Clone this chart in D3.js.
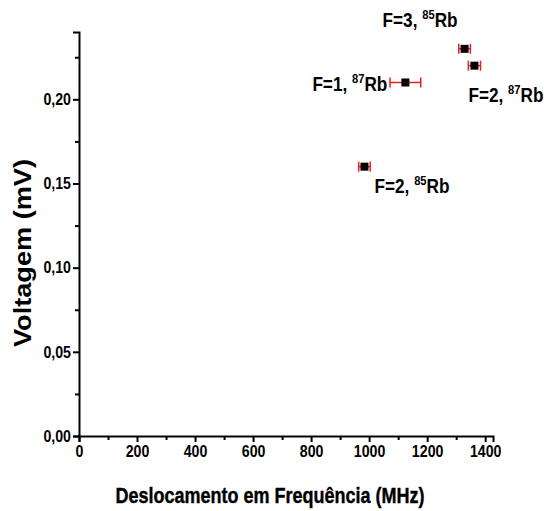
<!DOCTYPE html>
<html>
<head>
<meta charset="utf-8">
<script src="https://cdn.jsdelivr.net/npm/d3@7"></script>
<style>
  body { margin: 0; background: #fff; }
  svg { display: block; font-family: "Liberation Sans", Arial, sans-serif; font-weight: bold; }
</style>
</head>
<body>
<div id="chart-wrapper"></div>
<script>
// values
const labels = ["F=3", "F=1", "F=2", "F=2"];
const isotopes = ["85", "87", "87", "85"];
const shifts = [1329, 1125, 1363, 984];     // MHz
const shiftErr = [20, 53, 21, 20];           // MHz
const voltages = [0.23, 0.21, 0.22, 0.16];  // mV
const xTicks = [0, 200, 400, 600, 800, 1000, 1200, 1400];
const yTicks = [0, 0.05, 0.10, 0.15, 0.20];

// label placement relative to each point (pixels)
const labelOffsets = [
  {dx: -82, dy: -22, anchor: "start"},
  {dx: -18, dy: 8, anchor: "end"},
  {dx: -6, dy: 36, anchor: "start"},
  {dx: 10, dy: 26, anchor: "start"}
];

const width = 544, height = 511;
const margin = {left: 79, top: 32, right: 51, bottom: 75};
const squeeze = 0.86; // the original lettering is horizontally condensed

const svg = d3.select("#chart-wrapper")
  .append("svg")
  .attr("width", width)
  .attr("height", height);

const x = d3.scaleLinear()
  .domain([0, 1427])
  .range([margin.left, width - margin.right]);

const y = d3.scaleLinear()
  .domain([0, 0.24])
  .range([height - margin.bottom, margin.top]);

// x axis
const xAxis = svg.append("g")
  .attr("transform", `translate(0,${y(0)})`)
  .call(d3.axisBottom(x).tickValues(xTicks).tickSize(6).tickPadding(3).tickFormat(d3.format("d")));
xAxis.append("g")
  .call(d3.axisBottom(x).tickValues(d3.range(100, 1400, 200)).tickSize(4).tickFormat(""))
  .select(".domain").remove();
xAxis.selectAll(".tick text").attr("transform", `scale(${squeeze},1)`);

// y axis
const fmtY = d => d3.format(".2f")(d).replace(".", ",");
const yAxis = svg.append("g")
  .attr("transform", `translate(${x(0)},0)`)
  .call(d3.axisLeft(y).tickValues(yTicks).tickSize(6).tickPadding(3).tickFormat(fmtY));
yAxis.append("g")
  .call(d3.axisLeft(y).tickValues([0.025, 0.075, 0.125, 0.175, 0.225]).tickSize(4).tickFormat(""))
  .select(".domain").remove();
yAxis.selectAll(".tick text")
  .attr("x", 0)
  .attr("transform", `translate(-8,0) scale(${squeeze},1)`);

svg.selectAll(".domain").attr("stroke", "#000").attr("stroke-width", 2);
svg.selectAll(".tick line").attr("stroke", "#000").attr("stroke-width", 2);
svg.selectAll(".tick text")
  .attr("fill", "#000")
  .style("font-size", "16.5px")
  .style("font-weight", "bold")
  .style("font-family", "'Liberation Sans', Arial, sans-serif");

// axis titles
svg.append("text")
  .attr("x", 270)
  .attr("y", 503)
  .attr("text-anchor", "middle")
  .attr("textLength", 309)
  .attr("lengthAdjust", "spacingAndGlyphs")
  .attr("stroke", "#000")
  .attr("stroke-width", 0.4)
  .style("font-size", "22px")
  .text("Deslocamento em Frequência (MHz)");

svg.append("text")
  .attr("transform", `translate(31,253) rotate(-90)`)
  .attr("text-anchor", "middle")
  .attr("textLength", 188)
  .attr("lengthAdjust", "spacingAndGlyphs")
  .style("font-size", "23px")
  .text("Voltagem (mV)");

// error bars
const idx = d3.range(shifts.length);
const bars = svg.append("g").attr("stroke", "#e8201c").attr("stroke-width", 1.5);
idx.forEach(i => {
  const cy = y(voltages[i]);
  const x0 = x(shifts[i] - shiftErr[i]), x1 = x(shifts[i] + shiftErr[i]);
  bars.append("line").attr("x1", x0).attr("x2", x1).attr("y1", cy).attr("y2", cy);
  bars.append("line").attr("x1", x0).attr("x2", x0).attr("y1", cy - 5).attr("y2", cy + 5);
  bars.append("line").attr("x1", x1).attr("x2", x1).attr("y1", cy - 5).attr("y2", cy + 5);
});

// points
svg.append("g")
  .selectAll("rect")
  .data(idx)
  .join("rect")
  .attr("x", i => x(shifts[i]) - 4)
  .attr("y", i => y(voltages[i]) - 4)
  .attr("width", 8)
  .attr("height", 8)
  .attr("fill", "#000");

// point labels
const lab = svg.append("g")
  .selectAll("text")
  .data(idx)
  .join("text")
  .attr("transform", i =>
    `translate(${x(shifts[i]) + labelOffsets[i].dx},${y(voltages[i]) + labelOffsets[i].dy}) scale(${squeeze},1)`)
  .attr("text-anchor", i => labelOffsets[i].anchor)
  .style("font-size", "20px");
lab.append("tspan").text(i => labels[i] + ", ");
lab.append("tspan").attr("dy", -8).style("font-size", "13px").text(i => isotopes[i]);
lab.append("tspan").attr("dy", 8).text("Rb");
</script>
</body>
</html>
